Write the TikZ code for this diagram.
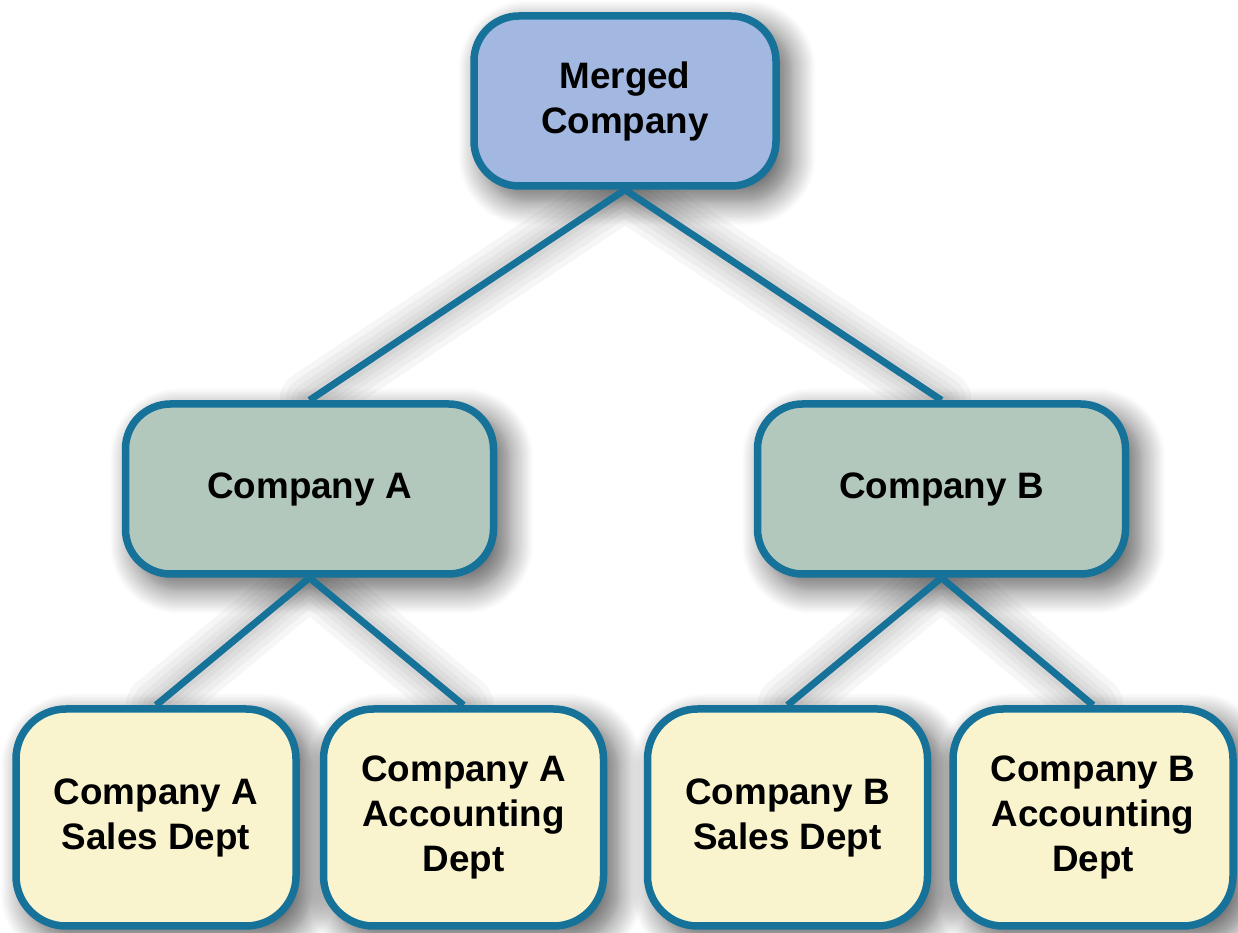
\documentclass[tikz,border=0pt]{standalone}
\usepackage{fontspec}
\setmainfont{Liberation Sans}
\usetikzlibrary{shadows.blur}
\definecolor{edgeblue}{RGB}{23,114,154}
\definecolor{topfill}{RGB}{163,184,224}
\definecolor{midfill}{RGB}{179,200,189}
\definecolor{lowfill}{RGB}{250,244,206}
\pgfdeclarelayer{shadowlayer}
\pgfdeclarelayer{linelayer}
\pgfsetlayers{shadowlayer,linelayer,main}
\tikzset{
  orgbox/.style={draw=edgeblue, line width=7.5pt, rounded corners=45pt,
    align=center, inner sep=0pt, text=black,
    font=\bfseries\fontsize{36.8}{45}\selectfont},
  topbox/.style={orgbox, fill=topfill, minimum width=302pt, minimum height=170pt},
  midbox/.style={orgbox, fill=midfill, minimum width=368pt, minimum height=170pt},
  lowbox/.style={orgbox, fill=lowfill, minimum width=280pt, minimum height=217pt, rounded corners=50pt},
  link/.style={draw=edgeblue, line width=7pt},
  boxshadow/.style={blur shadow={shadow xshift=12pt, shadow yshift=-12pt,
    shadow blur radius=24pt, shadow blur steps=14, shadow opacity=60}},
  linkshadow/.style={draw=black, opacity=0.035, line cap=round, xshift=10pt, yshift=-10pt}
}
\begin{document}
\begin{tikzpicture}[x=1pt,y=1pt]
\useasboundingbox (0,0) rectangle (1238,933);
\node[topbox] (m) at (625,832) {Merged\\Company};
\node[midbox] (a) at (309.5,444) {Company A};
\node[midbox] (b) at (941.5,444) {Company B};
\node[lowbox] (a1) at (156,115.5) {Company A\\Sales Dept};
\node[lowbox] (a2) at (463.5,115.5) {Company A\\Accounting\\Dept};
\node[lowbox] (b1) at (787.5,115.5) {Company B\\Sales Dept};
\node[lowbox] (b2) at (1093,115.5) {Company B\\Accounting\\Dept};
\begin{pgfonlayer}{shadowlayer}
  \foreach \n/\r in {m/45pt,a/45pt,b/45pt,a1/50pt,a2/50pt,b1/50pt,b2/50pt}{
    \path[boxshadow, rounded corners=\r] (\n.south west) rectangle (\n.north east);
  }
  \foreach \w in {60,48,36,26,16}{
    \path[linkshadow, line width=\w pt] (m.south) -- (a.north) (m.south) -- (b.north)
      (a.south) -- (a1.north) (a.south) -- (a2.north)
      (b.south) -- (b1.north) (b.south) -- (b2.north);
  }
\end{pgfonlayer}
\begin{pgfonlayer}{linelayer}
  \draw[link] (m.south) -- (a.north);
  \draw[link] (m.south) -- (b.north);
  \draw[link] (a.south) -- (a1.north);
  \draw[link] (a.south) -- (a2.north);
  \draw[link] (b.south) -- (b1.north);
  \draw[link] (b.south) -- (b2.north);
\end{pgfonlayer}
\end{tikzpicture}
\end{document}
